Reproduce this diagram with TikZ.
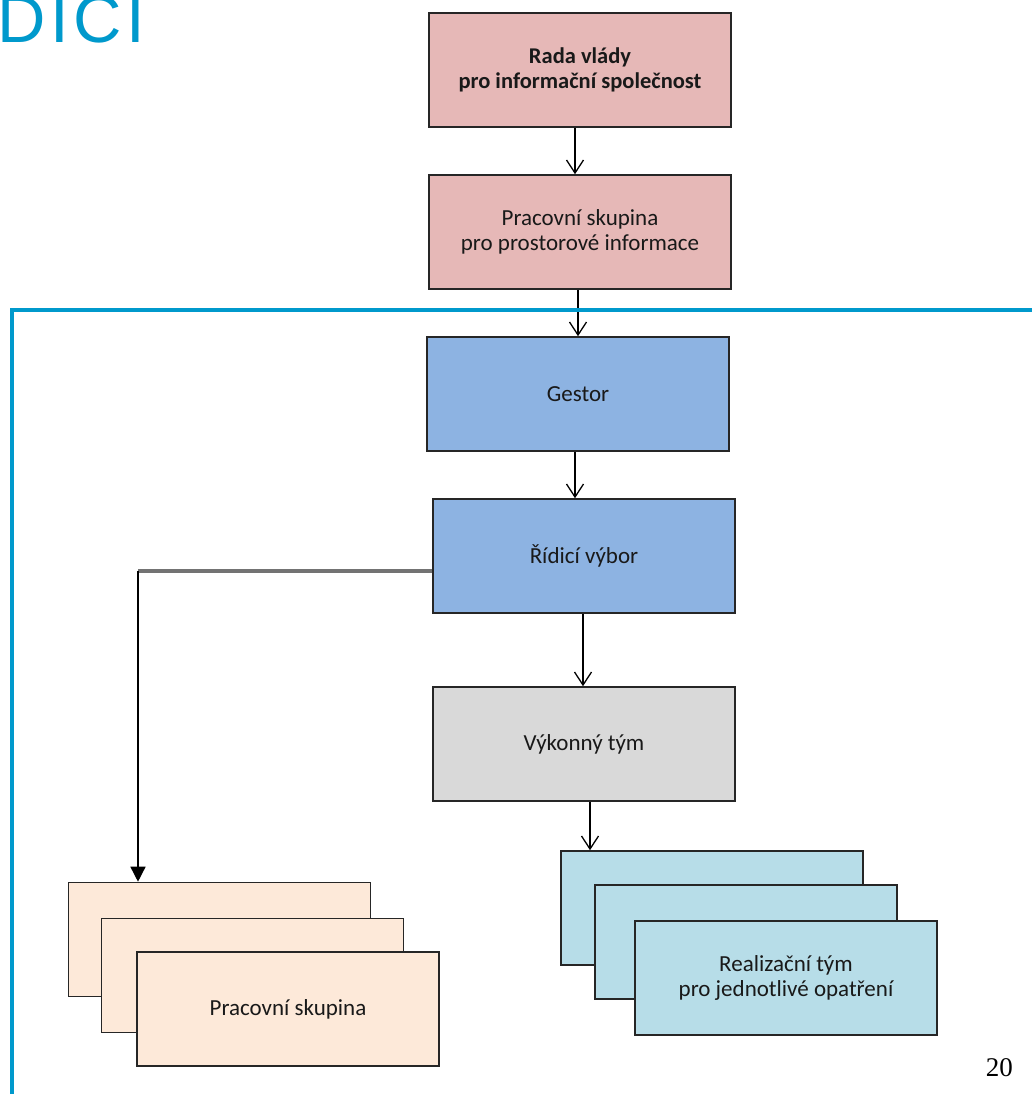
\documentclass[tikz,border=0pt]{standalone}
\usepackage{fontspec}
\setmainfont{Carlito}
\newfontfamily\titlefont{Liberation Sans}
\newfontfamily\numfont{Liberation Serif}
\usetikzlibrary{arrows.meta,positioning,calc}
\definecolor{titleblue}{HTML}{0099CC}
\definecolor{pinkfill}{HTML}{E6B8B7}
\definecolor{bluefill}{HTML}{8DB3E2}
\definecolor{greyfill}{HTML}{D9D9D9}
\definecolor{peachfill}{HTML}{FDE9D9}
\definecolor{cyanfill}{HTML}{B7DDE8}
\tikzset{
  box/.style={draw=black!85, line width=1.6pt, rectangle, minimum width=302pt, minimum height=114pt,
    inner sep=0pt, align=center, text=black!90, font=\fontsize{23}{25}\selectfont},
  conn/.style={draw=black, line width=1.5pt, -{Straight Barb[length=13pt,width=17pt,line width=1.3pt]}},
  fconn/.style={draw=black, line width=1.5pt, -{Triangle[length=15pt,width=15pt]}},
}
\begin{document}
\begin{tikzpicture}[x=1pt,y=-1pt]
\useasboundingbox (0,0) rectangle (1032,1094);
% title (clipped at top and left, as in the reference)
\node[anchor=base west, inner sep=0pt, text=titleblue, font=\titlefont\fontsize{67}{67}\selectfont\addfontfeatures{LetterSpace=7}] (title) at (-3,43) {DICI};
% boxes
\node[box, fill=pinkfill, font=\bfseries\fontsize{22.5}{25}\selectfont] (rada) at (580,70) {Rada vlády\\pro informační společnost};
\node[box, fill=pinkfill] (pp) at (580,232) {Pracovní skupina\\pro prostorové informace};
\node[box, fill=bluefill] (g) at (578,394) {Gestor};
\node[box, fill=bluefill] (rv) at (584,556) {Řídicí výbor};
\node[box, fill=greyfill] (vt) at (584,744) {Výkonný tým};
% stacks
\node[box, fill=peachfill] (ps1) at (219.5,939.5) {};
\node[box, fill=peachfill] (ps2) at (252.5,975.5) {};
\node[box, fill=peachfill] (ps3) at (288,1009) {Pracovní skupina};
\node[box, fill=cyanfill] (rt1) at (712,908) {};
\node[box, fill=cyanfill] (rt2) at (746,942) {};
\node[box, fill=cyanfill] (rt3) at (786,978) {Realizační tým\\pro jednotlivé opatření};
% connectors
\draw[conn] ([xshift=-5pt]rada.south) -- ([xshift=-5pt]pp.north);
\draw[conn] (pp.south -| g.north) -- (g.north);
\draw[conn] ([xshift=-3pt]g.south) -- ([xshift=-3pt]g.south |- rv.north);
\draw[conn] ([xshift=-1pt]rv.south) -- ([xshift=-1pt]vt.north);
\draw[conn] ([xshift=6pt]vt.south) -- ([xshift=6pt]vt.south |- rt1.north);
\coordinate (corner) at (138,571);
\draw[draw=black!55, line width=3.5pt] (rv.west |- corner) -- (corner);
\draw[fconn] (corner) -- (corner |- ps1.north);
% blue frame
\draw[titleblue, line width=3.5pt] (12,1094) -- (12,310) -- (1032,310);
% page number
\node[anchor=base east, inner sep=0pt, font=\numfont\fontsize{27}{27}\selectfont] (pg) at (1013,1076) {20};
\end{tikzpicture}
\end{document}
